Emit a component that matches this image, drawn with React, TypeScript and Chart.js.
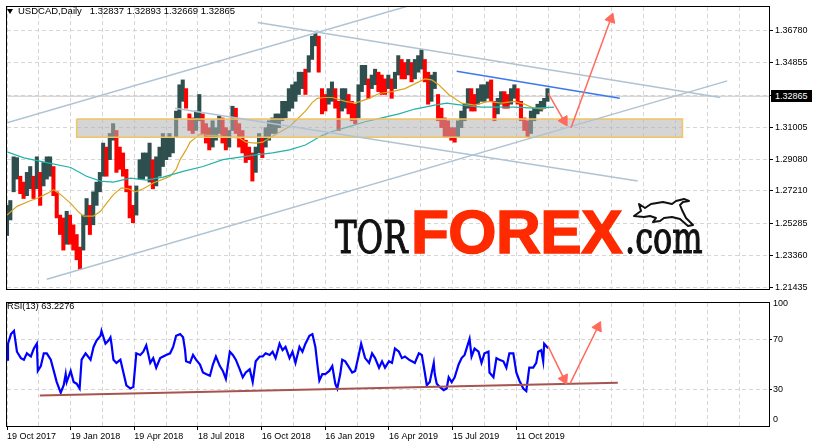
import React, { useEffect, useRef } from 'react';
import { Chart, registerables } from 'chart.js';

Chart.register(...registerables);

// ---------------- data ----------------
const symbolName = 'USDCAD,Daily';
const ohlcText = ['1.32837', '1.32893', '1.32669', '1.32865'];
const lastPrice = 1.32865;
const lastPriceText = '1.32865';
const rsiName = 'RSI(13)';
const rsiLastText = '63.2276';

// one sample column = 10/3 daily bars
const BARS_PER_SAMPLE = 10 / 3;

const highs = [
  1.2635, 1.2664, 1.2925, 1.2920, 1.2809, 1.2774, 1.2832, 1.2867, 1.2809, 1.2925,
  1.2832, 1.2891, 1.2925, 1.2925, 1.2867, 1.2716, 1.2577, 1.2560, 1.2600, 1.2577,
  1.2519, 1.2461, 1.2386, 1.2577, 1.2676, 1.2635, 1.2716, 1.2774, 1.2832, 1.3007,
  1.2983, 1.3064, 1.3123, 1.3082, 1.2983, 1.2948, 1.2850, 1.2751, 1.2635, 1.2751,
  1.2908, 1.2948, 1.2948, 1.3007, 1.2908, 1.2925, 1.2983, 1.3064, 1.3041, 1.3064,
  1.3041, 1.3198, 1.3355, 1.3384, 1.3332, 1.3181, 1.3157, 1.3198, 1.3297, 1.3181,
  1.3123, 1.3099, 1.3140, 1.3099, 1.3169, 1.3157, 1.3099, 1.3082, 1.3227, 1.3215,
  1.3123, 1.3082, 1.3024, 1.2983, 1.2948, 1.2983, 1.3064, 1.3041, 1.3099, 1.3140,
  1.3157, 1.3181, 1.3181, 1.3256, 1.3256, 1.3332, 1.3355, 1.3372, 1.3430, 1.3430,
  1.3448, 1.3529, 1.3645, 1.3662, 1.3645, 1.3332, 1.3297, 1.3332, 1.3372, 1.3332,
  1.3256, 1.3332, 1.3332, 1.3297, 1.3256, 1.3239, 1.3355, 1.3471, 1.3471, 1.3390,
  1.3413, 1.3448, 1.3430, 1.3413, 1.3390, 1.3413, 1.3390, 1.3430, 1.3529, 1.3506,
  1.3488, 1.3506, 1.3488, 1.3506, 1.3529, 1.3564, 1.3506, 1.3430, 1.3413, 1.3430,
  1.3297, 1.3215, 1.3157, 1.3140, 1.3099, 1.3099, 1.3140, 1.3198, 1.3239, 1.3332,
  1.3332, 1.3297, 1.3332, 1.3355, 1.3355, 1.3372, 1.3384, 1.3256, 1.3274, 1.3314,
  1.3314, 1.3297, 1.3332, 1.3355, 1.3332, 1.3256, 1.3157, 1.3140, 1.3198, 1.3215,
  1.3239, 1.3256, 1.3274, 1.3332,
];

const lows = [
  1.2455, 1.2548, 1.2716, 1.2792, 1.2705, 1.2676, 1.2693, 1.2734, 1.2676, 1.2734,
  1.2635, 1.2751, 1.2792, 1.2809, 1.2693, 1.2560, 1.2461, 1.2368, 1.2403, 1.2403,
  1.2368, 1.2310, 1.2252, 1.2368, 1.2519, 1.2461, 1.2519, 1.2635, 1.2716, 1.2809,
  1.2809, 1.2908, 1.3024, 1.2832, 1.2850, 1.2809, 1.2716, 1.2560, 1.2531, 1.2577,
  1.2792, 1.2792, 1.2809, 1.2774, 1.2734, 1.2751, 1.2809, 1.2867, 1.2908, 1.2925,
  1.2948, 1.3041, 1.3157, 1.3256, 1.3215, 1.3082, 1.3064, 1.3082, 1.3140, 1.3064,
  1.3007, 1.2966, 1.2983, 1.3024, 1.3064, 1.3007, 1.2966, 1.2983, 1.3082, 1.3064,
  1.2983, 1.2948, 1.2891, 1.2908, 1.2780, 1.2832, 1.2948, 1.2920, 1.2983, 1.3024,
  1.3064, 1.3064, 1.3099, 1.3140, 1.3157, 1.3198, 1.3215, 1.3256, 1.3297, 1.3332,
  1.3297, 1.3430, 1.3506, 1.3587, 1.3430, 1.3181, 1.3198, 1.3239, 1.3256, 1.3215,
  1.3082, 1.3198, 1.3215, 1.3181, 1.3140, 1.3123, 1.3157, 1.3314, 1.3355, 1.3274,
  1.3332, 1.3355, 1.3314, 1.3297, 1.3297, 1.3332, 1.3274, 1.3332, 1.3413, 1.3390,
  1.3390, 1.3413, 1.3372, 1.3390, 1.3430, 1.3448, 1.3372, 1.3239, 1.3256, 1.3332,
  1.3140, 1.3099, 1.3041, 1.3041, 1.3024, 1.3012, 1.3041, 1.3099, 1.3140, 1.3215,
  1.3198, 1.3198, 1.3239, 1.3256, 1.3256, 1.3274, 1.3256, 1.3140, 1.3181, 1.3239,
  1.3215, 1.3215, 1.3239, 1.3274, 1.3239, 1.3140, 1.3082, 1.3041, 1.3064, 1.3140,
  1.3181, 1.3198, 1.3215, 1.3256,
];

// moving averages: [bar index, price]
const maFast = [
  [0, 1.2577], [10, 1.2629], [24, 1.2664], [30, 1.2676], [40, 1.2705], [47, 1.2728], [54, 1.2699],
  [64, 1.2647], [72, 1.2595], [77, 1.2571], [87, 1.2571], [94, 1.2600], [100, 1.2647], [107, 1.2699],
  [115, 1.2740], [122, 1.2734], [129, 1.2716], [137, 1.2734], [147, 1.2769], [157, 1.2792], [164, 1.2809],
  [170, 1.2850], [174, 1.2908], [180, 1.2966], [184, 1.3012], [190, 1.3041], [194, 1.3059], [202, 1.3053],
  [209, 1.3053], [217, 1.3047], [227, 1.3041], [234, 1.3036], [240, 1.3012], [250, 1.3007], [257, 1.3012],
  [267, 1.3047], [277, 1.3082], [284, 1.3105], [290, 1.3140], [300, 1.3198], [307, 1.3250], [312, 1.3274],
  [319, 1.3279], [327, 1.3279], [340, 1.3256], [350, 1.3245], [364, 1.3274], [374, 1.3303], [387, 1.3314],
  [400, 1.3332], [414, 1.3372], [420, 1.3390], [427, 1.3384], [434, 1.3355], [444, 1.3297], [457, 1.3245],
  [470, 1.3233], [484, 1.3256], [497, 1.3245], [510, 1.3256], [520, 1.3239], [530, 1.3215], [540, 1.3210],
];

const maSlow = [
  [0, 1.2954], [17, 1.2919], [40, 1.2890], [64, 1.2861], [80, 1.2809], [94, 1.2780], [107, 1.2774],
  [124, 1.2798], [140, 1.2786], [157, 1.2804], [177, 1.2838], [197, 1.2867], [217, 1.2908], [250, 1.2937],
  [267, 1.2948], [284, 1.2966], [300, 1.2995], [317, 1.3053], [327, 1.3076], [344, 1.3105], [360, 1.3134],
  [377, 1.3157], [394, 1.3181], [410, 1.3210], [430, 1.3233], [442, 1.3245], [457, 1.3233], [477, 1.3221],
  [510, 1.3221], [530, 1.3215], [550, 1.3221],
];

// RSI(13): [bar index, value]
const rsiSeries = [
  [0, 53.9], [1, 66.9], [4, 74.7], [7, 77.3], [10, 60.4], [14, 55.2], [17, 53.9], [20, 59.1], [24, 56.5],
  [27, 63.0], [30, 66.9], [31, 44.8], [34, 48.7], [37, 59.1], [40, 59.1], [44, 53.9], [47, 44.8], [50, 35.7],
  [54, 27.1], [57, 33.1], [59, 42.2], [60, 35.7], [64, 44.8], [67, 35.7], [70, 34.4], [73, 30.5], [75, 53.9],
  [79, 59.1], [84, 53.9], [87, 64.3], [90, 69.5], [94, 73.4], [95, 77.3], [99, 66.9], [102, 69.5], [104, 72.1],
  [105, 66.9], [107, 53.9], [110, 51.3], [114, 53.9], [117, 43.5], [120, 33.1], [124, 30.5], [127, 31.8],
  [130, 59.1], [134, 57.8], [137, 60.4], [140, 65.6], [144, 51.3], [147, 55.2], [150, 47.4], [154, 55.2],
  [157, 56.5], [160, 57.8], [164, 59.1], [167, 64.3], [170, 73.4], [174, 74.7], [177, 72.1], [179, 61.7],
  [180, 52.6], [184, 51.3], [187, 57.8], [190, 53.9], [194, 50.0], [197, 43.5], [200, 42.2], [204, 40.9],
  [207, 50.0], [210, 56.5], [214, 48.7], [217, 44.8], [220, 38.3], [224, 60.4], [227, 57.8], [230, 53.9],
  [234, 46.1], [237, 39.6], [240, 43.5], [244, 46.1], [247, 35.7], [250, 52.6], [254, 56.5], [257, 56.5],
  [260, 59.1], [264, 57.8], [267, 60.4], [270, 55.2], [274, 66.9], [277, 61.7], [280, 64.3], [284, 55.2],
  [287, 60.4], [290, 51.3], [294, 64.3], [297, 60.4], [300, 66.9], [304, 73.4], [307, 74.7], [310, 64.3],
  [312, 50.0], [314, 37.0], [317, 42.2], [320, 42.2], [324, 44.8], [327, 48.7], [330, 34.4], [332, 30.5],
  [335, 42.2], [337, 53.9], [340, 52.6], [344, 47.4], [347, 43.5], [350, 44.8], [354, 59.1], [356, 66.9],
  [360, 55.2], [364, 51.3], [367, 59.1], [370, 55.2], [374, 47.4], [377, 52.6], [380, 47.4], [384, 52.6],
  [387, 51.3], [390, 63.0], [394, 60.4], [397, 55.2], [400, 56.5], [404, 53.9], [407, 52.6], [410, 51.3],
  [414, 59.1], [417, 57.8], [420, 43.5], [422, 33.1], [425, 35.7], [429, 51.3], [430, 42.2], [432, 34.4],
  [435, 31.8], [439, 29.2], [442, 30.5], [444, 39.6], [447, 35.7], [450, 39.6], [454, 50.0], [457, 55.2],
  [460, 57.8], [465, 70.8], [467, 56.5], [470, 63.0], [474, 60.4], [477, 51.3], [480, 59.1], [484, 60.4],
  [485, 43.5], [489, 39.6], [492, 55.2], [495, 53.9], [499, 52.6], [502, 47.4], [505, 59.1], [509, 59.1],
  [512, 43.5], [515, 37.0], [519, 30.5], [522, 28.4], [525, 47.4], [529, 47.4], [532, 51.3], [534, 60.4],
  [537, 61.7], [539, 52.6], [540, 66.9], [544, 63.2],
];

// axes
const priceTicks = [1.21435, 1.2336, 1.25285, 1.2721, 1.2908, 1.31005, 1.3293, 1.34855, 1.3678];
const priceMin = 1.21359;
const priceMax = 1.38191;
const rsiTicks = [30, 70];
const dateTickIdx = [0, 64, 128, 192, 256, 320, 384, 448, 512];
const dateLabels = [
  '19 Oct 2017', '19 Jan 2018', '19 Apr 2018', '18 Jul 2018', '16 Oct 2018',
  '16 Jan 2019', '16 Apr 2019', '15 Jul 2019', '11 Oct 2019',
];
const gridIdx = [0, 32, 64, 96, 128, 160, 192, 224, 256, 288, 320, 352, 384, 416, 448, 480, 512, 544, 576, 608, 640, 672, 704, 736];
const barMax = 766;

// drawn objects, in [bar index, price]
const channelUpper = [[0, 1.3128], [420, 1.3854]];
const channelLower = [[40, 1.2194], [724, 1.3378]];
const descUpper = [[252, 1.3726], [717, 1.3279]];
const descLower = [[169, 1.3215], [634, 1.278]];
const blueTrend = [[452, 1.3436], [616, 1.3274]];
const arrowDown = [[544, 1.3303], [560, 1.314]];
const arrowUp = [[567, 1.3099], [607, 1.3749]];
const zoneX = [70, 679];
const zoneY = [1.3041, 1.3151];
// RSI drawings, in [bar index, RSI]
const rsiTrend = [[33, 24.8], [614, 35.2]];
const rsiArrowDown = [[544, 64.8], [560, 38.3]];
const rsiArrowUp = [[566, 34.4], [594, 80.5]];

// ---------------- styles ----------------
const FONT = '"Liberation Sans", Arial, sans-serif';
const LOGO_SERIF = '"DejaVu Serif", "Liberation Serif", serif';
const GRID = '#d6d6d6';
const UP = '#2F4F4F';
const DOWN = '#FF0000';
const ARROW = '#FF6A5C';
const TREND = '#AFC3D3';

const pts = (a: number[][]) => a.map(([x, y]) => ({ x, y }));

function lineDs(data: number[][], color: string, width: number, order: number, extra: any = {}) {
  return {
    type: 'line',
    data: pts(data),
    borderColor: color,
    borderWidth: width,
    pointRadius: 0,
    pointHitRadius: 0,
    tension: 0,
    fill: false,
    order,
    ...extra,
  };
}

function arrowDs(data: number[][], order: number) {
  return {
    type: 'line',
    data: pts(data),
    borderColor: ARROW,
    borderWidth: 1.5,
    fill: false,
    order,
    pointRadius: [0, 6],
    pointHitRadius: 0,
    pointStyle: 'triangle',
    pointBackgroundColor: ARROW,
    pointBorderColor: ARROW,
    pointBorderWidth: 1,
    pointRotation: (c: any) => {
      const xs = c.chart.scales.x;
      const ys = c.chart.scales.y;
      const dx = xs.getPixelForValue(data[1][0]) - xs.getPixelForValue(data[0][0]);
      const dy = ys.getPixelForValue(data[1][1]) - ys.getPixelForValue(data[0][1]);
      return (Math.atan2(dy, dx) * 180) / Math.PI + 90;
    },
  };
}

const framePlugin = {
  id: 'frame',
  afterDraw(chart: any) {
    const { ctx, chartArea: a } = chart;
    ctx.save();
    ctx.strokeStyle = '#000';
    ctx.lineWidth = 1;
    ctx.setLineDash([]);
    ctx.strokeRect(
      Math.round(a.left) - 0.5,
      Math.round(a.top) - 0.5,
      Math.round(a.right - a.left) + 1,
      Math.round(a.bottom - a.top) + 1,
    );
    ctx.restore();
  },
};

function xScale(showLabels: boolean) {
  return {
    type: 'linear',
    min: 0,
    max: barMax,
    offset: false,
    afterBuildTicks: (s: any) => {
      s.ticks = gridIdx.map((v) => ({ value: v }));
    },
    afterFit: (s: any) => {
      s.height = showLabels ? 21 : 0;
      s.paddingLeft = 0;
      s.paddingRight = 0;
    },
    ticks: {
      display: showLabels,
      autoSkip: false,
      maxRotation: 0,
      minRotation: 0,
      align: 'start',
      padding: 1,
      color: '#000',
      font: { size: 9, family: FONT },
      callback: (v: any) => {
        const k = dateTickIdx.indexOf(Number(v));
        return k >= 0 ? dateLabels[k] : '';
      },
    },
    grid: {
      offset: false,
      color: GRID,
      lineWidth: 1,
      drawTicks: showLabels,
      tickLength: 4,
      tickWidth: 1,
      tickBorderDash: [],
      tickColor: (c: any) => (c.tick && dateTickIdx.indexOf(c.tick.value) >= 0 ? '#000' : 'rgba(0,0,0,0)'),
    },
    border: { display: false, dash: [4, 3] },
  };
}

function mainConfig(): any {
  const candleColors = highs.map((h, i) => {
    if (i === 0) return UP;
    const mid = (h + lows[i]) / 2;
    const prev = (highs[i - 1] + lows[i - 1]) / 2;
    return mid >= prev ? UP : DOWN;
  });
  return {
    type: 'bar',
    data: {
      datasets: [
        lineDs([[-10, lastPrice], [barMax + 10, lastPrice]], '#C8C8C8', 1, 10),
        {
          type: 'bar',
          data: highs.map((h, i) => ({ x: i * BARS_PER_SAMPLE, y: [lows[i], h] })),
          backgroundColor: candleColors,
          borderWidth: 0,
          barThickness: 3.4,
          order: 9,
        },
        lineDs(maSlow, '#20B2AA', 1.2, 8),
        lineDs(maFast, '#DAA520', 1.2, 8),
        lineDs([[zoneX[0], zoneY[1]], [zoneX[1], zoneY[1]]], 'rgba(0,0,0,0)', 0, 7),
        lineDs([[zoneX[0], zoneY[0]], [zoneX[1], zoneY[0]]], 'rgba(0,0,0,0)', 0, 7, {
          fill: '-1',
          backgroundColor: 'rgba(178,178,178,0.55)',
        }),
        lineDs(
          [[zoneX[0], zoneY[1]], [zoneX[1], zoneY[1]], [zoneX[1], zoneY[0]], [zoneX[0], zoneY[0]], [zoneX[0], zoneY[1]]],
          '#F2C462', 1.5, 6,
        ),
        lineDs(channelUpper, TREND, 1.5, 5),
        lineDs(channelLower, TREND, 1.5, 5),
        lineDs(descUpper, TREND, 1.5, 5),
        lineDs(descLower, TREND, 1.5, 5),
        lineDs(blueTrend, '#3A78F0', 1.5, 4),
        arrowDs(arrowDown, 3),
        arrowDs(arrowUp, 3),
      ],
    },
    options: {
      responsive: false,
      animation: false,
      events: [],
      layout: { padding: { top: 3, bottom: 3, left: 3, right: 0 } },
      plugins: { legend: { display: false }, tooltip: { enabled: false } },
      scales: {
        x: xScale(false),
        y: {
          type: 'linear',
          position: 'right',
          min: priceMin,
          max: priceMax,
          beginAtZero: false,
          afterBuildTicks: (s: any) => {
            s.ticks = priceTicks.map((v) => ({ value: v }));
          },
          afterFit: (s: any) => {
            s.width = 46;
            s.paddingTop = 0;
            s.paddingBottom = 0;
          },
          ticks: {
            color: '#000',
            padding: 2,
            font: { size: 9, family: FONT },
            callback: (v: any) => Number(v).toFixed(5),
          },
          grid: { color: GRID, tickColor: '#000', tickLength: 4, tickBorderDash: [] },
          border: { display: true, color: '#000', dash: [4, 3] },
        },
      },
    },
    plugins: [framePlugin],
  };
}

function rsiConfig(): any {
  return {
    type: 'line',
    data: {
      datasets: [
        lineDs(rsiSeries, '#0000FF', 2.2, 3),
        lineDs(rsiTrend, '#A65450', 2, 2),
        arrowDs(rsiArrowDown, 1),
        arrowDs(rsiArrowUp, 1),
      ],
    },
    options: {
      responsive: false,
      animation: false,
      events: [],
      layout: { padding: { top: 2, bottom: 0, left: 3, right: 0 } },
      plugins: { legend: { display: false }, tooltip: { enabled: false } },
      scales: {
        x: xScale(true),
        y: {
          type: 'linear',
          position: 'right',
          min: 0,
          max: 100,
          afterBuildTicks: (s: any) => {
            s.ticks = rsiTicks.map((v) => ({ value: v }));
          },
          afterFit: (s: any) => {
            s.width = 46;
            s.paddingTop = 0;
            s.paddingBottom = 0;
          },
          ticks: { color: '#000', padding: 1, font: { size: 9, family: FONT } },
          grid: { color: GRID, tickColor: '#000', tickLength: 3, tickBorderDash: [] },
          border: { display: true, color: '#000', dash: [4, 3] },
        },
      },
    },
    plugins: [framePlugin],
  };
}

const abs = (o: any): React.CSSProperties => ({ position: 'absolute', whiteSpace: 'pre', ...o });

export default function App() {
  const mainRef = useRef<HTMLCanvasElement>(null);
  const rsiRef = useRef<HTMLCanvasElement>(null);

  useEffect(() => {
    Chart.defaults.font.family = FONT;
    Chart.defaults.font.size = 9;
    Chart.defaults.color = '#000';
    const main = new Chart(mainRef.current as HTMLCanvasElement, mainConfig());
    const rsi = new Chart(rsiRef.current as HTMLCanvasElement, rsiConfig());
    return () => {
      main.destroy();
      rsi.destroy();
    };
  }, []);

  return (
    <div
      style={{
        position: 'fixed', left: 0, top: 0, width: 815, height: 447,
        background: '#fff', overflow: 'hidden', fontFamily: FONT, color: '#000',
      }}
    >
      <canvas ref={mainRef} width={815} height={296} style={{ position: 'absolute', left: 0, top: 0, width: 815, height: 296 }} />
      <canvas ref={rsiRef} width={815} height={151} style={{ position: 'absolute', left: 0, top: 296, width: 815, height: 151 }} />

      {/* title */}
      <div style={abs({ left: 7, top: 9, width: 0, height: 0, borderLeft: '3.5px solid transparent', borderRight: '3.5px solid transparent', borderTop: '5px solid #000' })} />
      <div style={abs({ left: 18, top: 6, fontSize: 9.5, lineHeight: '9.5px' })}>
        {symbolName + '   ' + ohlcText.join(' ')}
      </div>

      {/* current price label */}
      <div style={abs({ left: 771, top: 90, width: 41, height: 12, background: '#000', color: '#fff', fontSize: 9, lineHeight: '12px', paddingLeft: 4, boxSizing: 'border-box' })}>
        {lastPriceText}
      </div>

      {/* RSI header and end labels */}
      <div style={abs({ left: 7, top: 301.5, fontSize: 9.2, lineHeight: '9.2px' })}>{rsiName + ' ' + rsiLastText}</div>
      <div style={abs({ left: 773, top: 299.4, fontSize: 9, lineHeight: '9px' })}>100</div>
      <div style={abs({ left: 773, top: 415, fontSize: 9, lineHeight: '9px' })}>0</div>

      {/* watermark */}
      <div style={abs({ left: 335, top: 215, fontFamily: LOGO_SERIF, fontSize: 45, lineHeight: '45px', color: '#111', transform: 'scaleX(0.72)', transformOrigin: 'left top', WebkitTextStroke: '1.2px #111' })}>TOR</div>
      <div style={abs({ left: 411, top: 200.5, fontFamily: FONT, fontWeight: 'bold', fontSize: 62, lineHeight: '62px', color: '#FF2A00', letterSpacing: -0.5, WebkitTextStroke: '1.5px #FF2A00' })}>FOREX</div>
      <div style={abs({ left: 625, top: 215, fontFamily: LOGO_SERIF, fontSize: 45, lineHeight: '45px', color: '#111', transform: 'scaleX(0.71)', transformOrigin: 'left top', WebkitTextStroke: '1.2px #111' })}>.com</div>
      <svg width={815} height={447} style={{ position: 'absolute', left: 0, top: 0, pointerEvents: 'none' }}>
        <path
          d="M634 216 L641 211 L639 204 L645 208 L651 204 L663 202 L672 204 L676 201 L684 199 L689 201 L683 202 L680 205 L682 210 L686 218 L693 225 L688 226 L680 219 L672 217 L664 218 L660 221 L653 222 L656 218 L650 216 L644 217 Z"
          fill="#fff"
          stroke="#111"
          strokeWidth={2}
          strokeLinejoin="round"
        />
      </svg>
    </div>
  );
}
